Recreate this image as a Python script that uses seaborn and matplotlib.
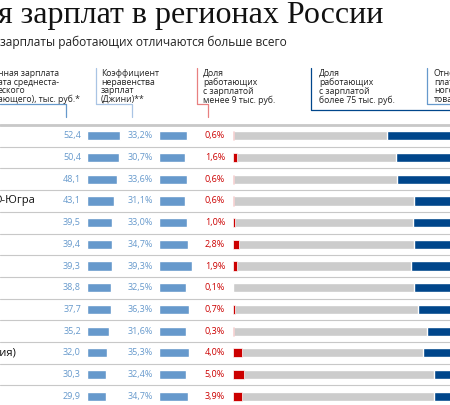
import numpy as np
import pandas as pd
import matplotlib
matplotlib.use('Agg')
import matplotlib.pyplot as plt
import seaborn as sns

sns.set_theme(style='white')
plt.rcParams['font.family'] = ['Open Sans', 'DejaVu Sans']

# data (region names are cut off at the left edge)
regions = ['', '', '', 'О-Югра', '', '', '', '', '', '', 'тия)', '', '']
median_wage = [52.4, 50.4, 48.1, 43.1, 39.5, 39.4, 39.3, 38.8, 37.7, 35.2, 32.0, 30.3, 29.9]
gini = [33.2, 30.7, 33.6, 31.1, 33.0, 34.7, 39.3, 32.5, 36.3, 31.6, 35.3, 32.4, 34.7]
low_share = [0.6, 1.6, 0.6, 0.6, 1.0, 2.8, 1.9, 0.1, 0.7, 0.3, 4.0, 5.0, 3.9]
high_share = [30.0, 26.0, 25.5, 17.5, 18.0, 17.5, 19.0, 17.5, 16.0, 12.0, 13.5, 8.5, 8.5]

df = pd.DataFrame({'region': regions, 'wage': median_wage, 'gini': gini,
                   'low': low_share, 'high': high_share})
df['row'] = np.arange(len(df))

W, H = 450, 405
fig = plt.figure(figsize=(4.5, 4.05), dpi=100)
bg = fig.add_axes([0, 0, 1, 1])
bg.set_xlim(0, W)
bg.set_ylim(H, 0)
bg.axis('off')

top, step = 125, 21.7
n = len(df)
bh = 0.42


def col_axes(x0, width, xmax):
    ax = fig.add_axes([x0 / W, 1 - (top + n * step) / H, width / W, n * step / H])
    ax.set_xlim(0, xmax)
    ax.set_ylim(n - 0.5, -0.5)
    ax.axis('off')
    ax.patch.set_alpha(0)
    return ax


blue = '#6699cc'
navy = '#00468b'
red = '#cc0000'
gray = '#cccccc'

# row separators
for i in range(n):
    y = top + i * step
    bg.plot([0, W], [y, y], color='#c8c8c8', lw=2.0 if i == 0 else 0.8)

bg.text(-2, 15, 'я зарплат в регионах России', family='Liberation Serif',
        fontsize=23, va='center', ha='left', color='#111111')
bg.text(0, 42, 'зарплаты работающих отличаются больше всего',
        fontsize=8.6, va='center', ha='left', color='#222222')

hdr = dict(fontsize=6.2, va='top', ha='left', color='#222222', linespacing=0.95)
bg.text(-2, 69, 'нная зарплата\nата среднеста-\nеского\nающего), тыс. руб.*', **hdr)
bg.text(101, 69, 'Коэффициент\nнеравенства\nзарплат\n(Джини)**', **hdr)
bg.text(203, 69, 'Доля\nработающих\nс зарплатой\nменее 9 тыс. руб.', **hdr)
bg.text(319, 69, 'Доля\nработающих\nс зарплатой\nболее 75 тыс. руб.', **hdr)
bg.text(434, 69, 'Отно\nплат\nного\nтова', **hdr)

# header brackets
bg.plot([0, 66, 66], [104, 104, 117], color=blue, lw=0.9)
bg.plot([96, 96, 132, 132], [68, 104, 104, 117], color='#a9c4e4', lw=0.9)
bg.plot([197, 197, 208, 208], [68, 104, 104, 117], color='#e88080', lw=0.9)
bg.plot([311, 311, W], [68, 110, 110], color=navy, lw=0.9)
bg.plot([427, 427, W], [68, 104, 104], color=blue, lw=0.9)

# region labels
for i, r in df.iterrows():
    bg.text(35 if r['region'] == 'О-Югра' else 17 if r['region'] else 0,
            top + (i + 0.5) * step, r['region'], fontsize=8, ha='right',
            va='center', color='#111111')

# column 1: median wage
ax1 = col_axes(87, 60, 60 / 0.63)
sns.barplot(data=df, x='wage', y='row', orient='h', color=blue, saturation=1,
            width=bh, ax=ax1, native_scale=True)
ax1.set_ylim(n - 0.5, -0.5)
ax1.axis('off')
for i, v in enumerate(median_wage):
    ax1.text(-9.5, i, f'{v:.1f}'.replace('.', ','), ha='right', va='center',
             fontsize=6.5, color=blue)

# column 2: gini
ax2 = col_axes(159, 45, 45 / 0.84)
sns.barplot(data=df, x='gini', y='row', orient='h', color=blue, saturation=1,
            width=bh, ax=ax2, native_scale=True)
ax2.set_ylim(n - 0.5, -0.5)
ax2.axis('off')
for i, v in enumerate(gini):
    ax2.text(-7.1, i, f'{v:.1f}%'.replace('.', ','), ha='right', va='center',
             fontsize=6.5, color=blue)

# column 3: stacked shares
ax3 = col_axes(233, 220, 100)
rows = df['row']
ax3.barh(rows, 100, height=bh, color=gray)
ax3.barh(rows, df['low'], height=bh, color=red, edgecolor='white', linewidth=0.5)
ax3.barh(rows, df['high'], left=100 - df['high'], height=bh, color=navy)
for i, v in enumerate(low_share):
    ax3.text(-3.6, i, f'{v:.1f}%'.replace('.', ','), ha='right', va='center',
             fontsize=6.5, color=red)

fig.savefig('out.png', dpi=100)
